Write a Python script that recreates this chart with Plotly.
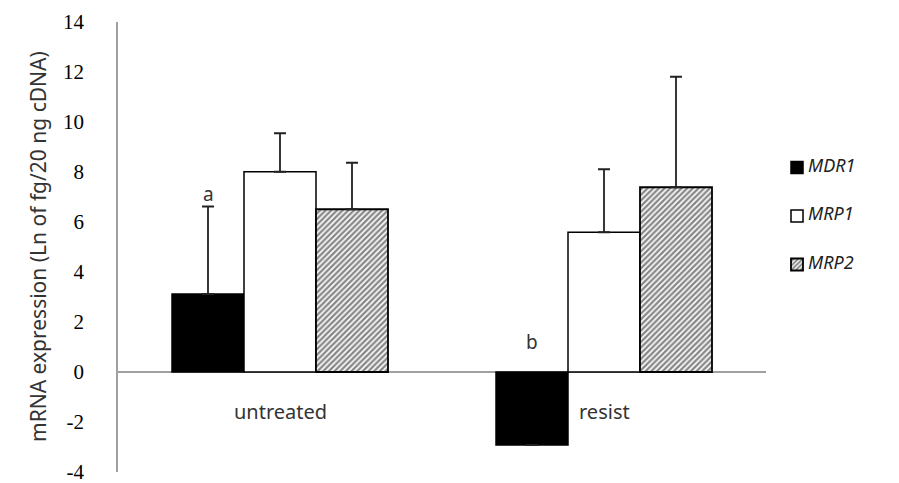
import plotly.graph_objects as go

categories = ["untreated", "resist"]
series = ["MDR1", "MRP1", "MRP2"]
mdr1 = [3.12, -2.92]
mrp1 = [8.01, 5.59]
mrp2 = [6.51, 7.39]
mdr1_err = [3.5, None]
mrp1_err = [1.54, 2.52]
mrp2_err = [1.86, 4.42]
sig_labels = ["a", "b"]
sig_y = [7.12, 1.21]
y_ticks = [-4, -2, 0, 2, 4, 6, 8, 10, 12, 14]
y_ticktext = ["-4", "-2", "0", "2", "4", "6", "8", "10", "12", "14"]
y_title = "mRNA expression (Ln of fg/20 ng cDNA)"

# page body has an 8px margin: figure is sized/positioned to compensate
W, H = 891, 475
L, R, T, B = 110, 133, 14, 11
PW, PH = W - L - R, H - T - B

xpos = [0, 1]
err_style = dict(type="data", symmetric=False, color="#222", thickness=1.8, width=6)

fig = go.Figure()
fig.add_trace(go.Bar(
    x=xpos, y=mdr1, name=series[0], legendgroup="g1",
    marker=dict(color="black", line=dict(color="black", width=1.5)),
    error_y=dict(array=mdr1_err, arrayminus=[0, 0], **err_style),
))
fig.add_trace(go.Bar(
    x=xpos, y=mrp1, name=series[1], legendgroup="g2",
    marker=dict(color="white", line=dict(color="black", width=1.5)),
    error_y=dict(array=mrp1_err, arrayminus=[0, 0], **err_style),
))
fig.add_trace(go.Bar(
    x=xpos, y=mrp2, name=series[2], legendgroup="g3",
    marker=dict(color="white", line=dict(color="black", width=1.8),
                pattern=dict(shape="/", size=4, solidity=0.6, fgcolor="#111", bgcolor="white",
                             fillmode="overlay")),
    error_y=dict(array=mrp2_err, arrayminus=[0, 0], **err_style),
))

bar_w = (1 - 1/3) / 3
for i, (lab, yy) in enumerate(zip(sig_labels, sig_y)):
    fig.add_annotation(x=xpos[i] - bar_w, y=yy, text=lab, showarrow=False,
                       font=dict(family="Noto Sans", size=19, color="#333"))

for i, c in enumerate(categories):
    fig.add_annotation(x=xpos[i], y=-1.59, text=c, showarrow=False,
                       font=dict(family="Noto Sans", size=20, color="#333"))

fig.add_annotation(xref="paper", yref="paper", x=(14 - L) / PW, y=0.5, text=y_title,
                   textangle=-90, showarrow=False, font=dict(family="Noto Sans", size=21, color="#333"))

# legend labels placed right next to the legend swatches
leg_y = [165, 213, 262]
for name, yy in zip(series, leg_y):
    fig.add_annotation(xref="paper", yref="paper", x=(798 - L) / PW, y=1 - (yy - 8 - T) / PH,
                       xanchor="left", yanchor="middle", text=name, showarrow=False,
                       font=dict(family="Noto Sans", size=18, color="#222", style="italic"))

fig.update_layout(
    width=W, height=H,
    margin=dict(l=L, r=R, t=T, b=B, autoexpand=False),
    paper_bgcolor="white", plot_bgcolor="white",
    barmode="group", bargap=1/3, bargroupgap=0,
    showlegend=True,
    legend=dict(x=(789.5 - 20.5 - L) / PW, y=1 - (153 - 8 - T) / PH, xanchor="left", yanchor="top",
                tracegroupgap=29.5,
                font=dict(family="Noto Sans", size=1, color="rgba(0,0,0,0)"),
                itemwidth=30, bgcolor="rgba(0,0,0,0)"),
    xaxis=dict(range=[-0.5, 1.5], showticklabels=False, showgrid=False, zeroline=False,
               showline=False, ticks=""),
    yaxis=dict(range=[-4, 14], tickvals=y_ticks, ticktext=y_ticktext, showgrid=False, zeroline=True,
               zerolinecolor="#a0a0a0", zerolinewidth=1.5, showline=True, linecolor="#a0a0a0",
               linewidth=1.5, ticks="", ticklabelstandoff=28, ticklabeloverflow="allow",
               tickfont=dict(family="Liberation Serif", size=21, color="black")),
)
fig.write_html("out.html")
